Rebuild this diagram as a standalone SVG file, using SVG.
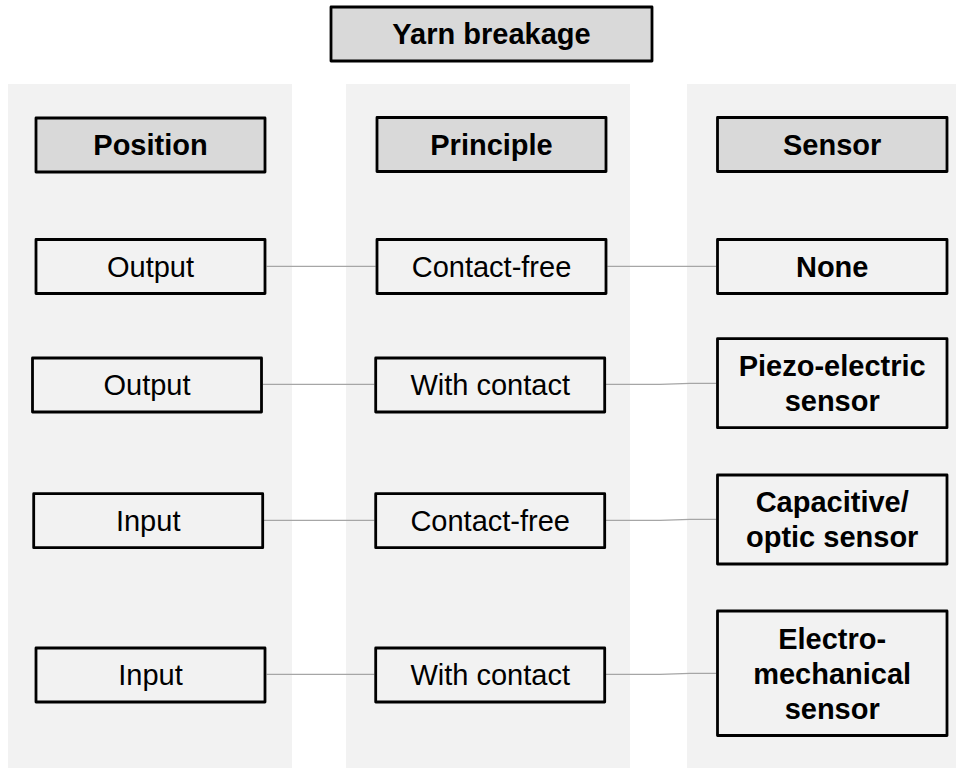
<svg xmlns="http://www.w3.org/2000/svg" width="956" height="769" viewBox="0 0 956 769">
<style>
.col{fill:#f2f2f2;stroke:none}
.hdr{fill:#d9d9d9;stroke:#000;stroke-width:2.8;stroke-linejoin:round}
.box{fill:#f2f2f2;stroke:#000;stroke-width:2.8;stroke-linejoin:round}
text{font-family:"Liberation Sans",Arial,sans-serif;font-size:29px;fill:#000;text-anchor:middle}
.b{font-weight:bold}
.con{fill:none;stroke:#a6a6a6;stroke-width:1.2}
</style>
<rect width="956" height="769" fill="#ffffff"/>
<g id="columns">
<rect class="col" x="8" y="84" width="284" height="684"/>
<rect class="col" x="346" y="84" width="284" height="684"/>
<rect class="col" x="687" y="84" width="269" height="684"/>
</g>
<g id="connectors">
<line class="con" x1="266.7" y1="266.3" x2="375.7" y2="266.3"/>
<line class="con" x1="607.3" y1="266.3" x2="716" y2="266.3"/>
<line class="con" x1="262.7" y1="384.3" x2="374.3" y2="384.3"/>
<polyline class="con" points="606,384.3 660,384.3 690,383.3 716,383.3"/>
<line class="con" x1="264" y1="520.3" x2="374.3" y2="520.3"/>
<polyline class="con" points="606,520.3 660,520.3 690,519.3 716,519.3"/>
<line class="con" x1="266.7" y1="674.3" x2="374.3" y2="674.3"/>
<polyline class="con" points="606,674.3 660,674.3 690,673.3 716,673.3"/>
</g>
<g id="yarn-breakage">
<rect class="hdr" x="331" y="7" width="321" height="54"/>
<text class="b" x="491.5" y="44.4">Yarn breakage</text>
</g>
<g id="position">
<rect class="hdr" x="36" y="118" width="229" height="54"/>
<text class="b" x="150.5" y="155.4">Position</text>
</g>
<g id="principle">
<rect class="hdr" x="377" y="117.5" width="229" height="54"/>
<text class="b" x="491.5" y="154.9">Principle</text>
</g>
<g id="sensor">
<rect class="hdr" x="717.5" y="117.5" width="229.5" height="54"/>
<text class="b" x="832.2" y="154.9">Sensor</text>
</g>
<g id="output-1">
<rect class="box" x="36" y="239.5" width="229" height="54"/>
<text x="150.5" y="276.9">Output</text>
</g>
<g id="contact-free-1">
<rect class="box" x="377" y="239.5" width="229" height="54"/>
<text x="491.5" y="276.9">Contact-free</text>
</g>
<g id="none">
<rect class="box" x="717.5" y="239.5" width="229.5" height="54"/>
<text class="b" x="832.2" y="276.9">None</text>
</g>
<g id="output-2">
<rect class="box" x="32.5" y="358" width="229" height="54"/>
<text x="147" y="395.4">Output</text>
</g>
<g id="with-contact-2">
<rect class="box" x="375.7" y="358" width="229" height="54"/>
<text x="490.2" y="395.4">With contact</text>
</g>
<g id="piezo">
<rect class="box" x="717.5" y="338.7" width="229.5" height="89"/>
<text class="b" x="832.2" y="376.3">Piezo-electric</text>
<text class="b" x="832.2" y="410.5">sensor</text>
</g>
<g id="input-3">
<rect class="box" x="33.7" y="493.7" width="229" height="54"/>
<text x="148.2" y="531.1">Input</text>
</g>
<g id="contact-free-3">
<rect class="box" x="375.7" y="493.7" width="229" height="54"/>
<text x="490.2" y="531.1">Contact-free</text>
</g>
<g id="capacitive">
<rect class="box" x="717.5" y="475" width="229.5" height="89"/>
<text class="b" x="832.2" y="512.3">Capacitive/</text>
<text class="b" x="832.2" y="547.1">optic sensor</text>
</g>
<g id="input-4">
<rect class="box" x="36" y="648" width="229" height="54"/>
<text x="150.5" y="685.4">Input</text>
</g>
<g id="with-contact-4">
<rect class="box" x="375.7" y="648" width="229" height="54"/>
<text x="490.2" y="685.4">With contact</text>
</g>
<g id="electro">
<rect class="box" x="717.5" y="611" width="229.5" height="124.5"/>
<text class="b" x="832.2" y="648.5">Electro-</text>
<text class="b" x="832.2" y="683.5">mechanical</text>
<text class="b" x="832.2" y="718.5">sensor</text>
</g>
</svg>
